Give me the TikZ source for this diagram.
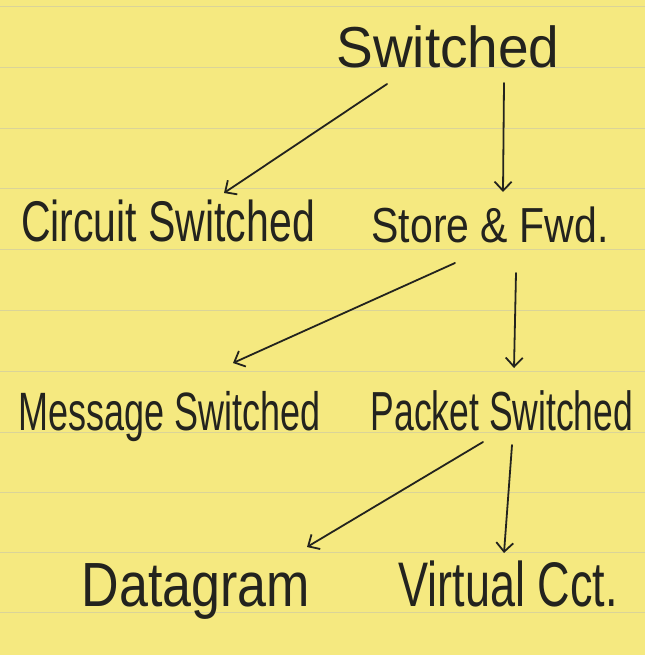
\documentclass[tikz,border=0pt]{standalone}
\usepackage{fontspec}
\setmainfont{Liberation Sans}
\usetikzlibrary{arrows.meta}
\definecolor{paper}{RGB}{245,233,128}
\definecolor{rule}{RGB}{218,212,152}
\definecolor{ink}{RGB}{35,35,30}
\tikzset{
  lbl/.style={anchor=base, inner sep=0pt, text=ink},
  arr/.style={draw=ink, line width=1.8pt, line cap=round,
    -{Straight Barb[length=9pt,width=17pt,line width=1.8pt]}},
  ruleline/.style={draw=rule, line width=0.9pt}
}
\newcommand{\tallt}[2]{\scalebox{1}[#1]{#2}}
\begin{document}
\begin{tikzpicture}[x=1pt,y=-1pt]
\fill[paper] (0,0) rectangle (645,655);
\useasboundingbox (0,0) rectangle (645,655);
\foreach \yy in {6,67,128,188,249,310,371,432,492,552,612}
  \draw[ruleline] (0,\yy) -- (645,\yy);

\node[lbl, font=\fontsize{55}{60}\selectfont] (sw) at (448,68) {\tallt{1.05}{Switched}};
\node[lbl, font=\fontsize{41}{46}\selectfont] (cs) at (168,241) {\tallt{1.4}{Circuit Switched}};
\node[lbl, font=\fontsize{41}{46}\selectfont] (sf) at (490,242) {\tallt{1.2}{Store \& Fwd.}};
\node[lbl, font=\fontsize{36}{40}\selectfont] (ms) at (170,430) {\tallt{1.5}{Message Switched}};
\node[lbl, font=\fontsize{35.5}{40}\selectfont] (ps) at (502,430) {\tallt{1.55}{Packet Switched}};
\node[lbl, font=\fontsize{52}{58}\selectfont] (dg) at (196,606) {\tallt{1.2}{Datagram}};
\node[lbl, font=\fontsize{45}{50}\selectfont] (vc) at (508,606) {\tallt{1.4}{Virtual Cct.}};

\draw[arr] ([shift={(-61,16)}]sw.base) -- ([shift={(56,-48)}]cs.base);
\draw[arr] ([shift={(56,15)}]sw.base) -- ([shift={(13,-50)}]sf.base);
\draw[arr] ([shift={(-35,21)}]sf.base) -- ([shift={(63,-67)}]ms.base);
\draw[arr] ([shift={(26,31)}]sf.base) -- ([shift={(12,-62)}]ps.base);
\draw[arr] ([shift={(-19,12)}]ps.base) -- ([shift={(111,-59)}]dg.base);
\draw[arr] ([shift={(10,15)}]ps.base) -- ([shift={(-4,-53)}]vc.base);
\end{tikzpicture}
\end{document}
